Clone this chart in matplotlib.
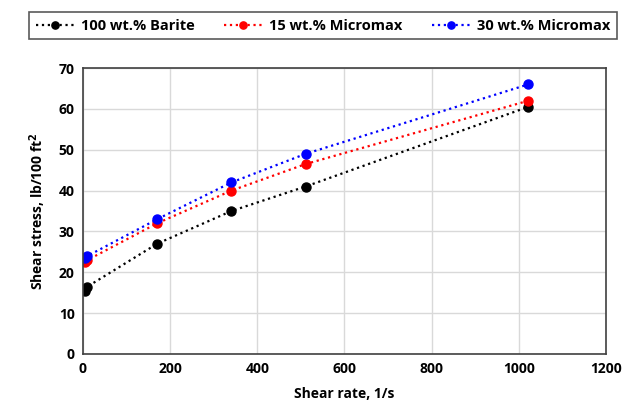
import matplotlib.pyplot as plt
import numpy as np

plt.rcParams['font.family'] = ['Open Sans', 'DejaVu Sans']

shear_rate = [5.11, 10.22, 170.3, 340.6, 510.9, 1021.8]
barite = [15.5, 16.5, 27.0, 35.0, 41.0, 60.5]
micromax15 = [22.5, 23.0, 32.0, 40.0, 46.5, 62.0]
micromax30 = [23.5, 24.0, 33.0, 42.0, 49.0, 66.0]

series = [
    ('100 wt.% Barite', barite, 'black'),
    ('15 wt.% Micromax', micromax15, 'red'),
    ('30 wt.% Micromax', micromax30, 'blue'),
]

fig = plt.figure(figsize=(6.24, 4.15), dpi=100)
ax = fig.add_axes([0.133, 0.147, 0.838, 0.689])

for label, vals, color in series:
    ax.plot(shear_rate, vals, linestyle=':', linewidth=1.6, color=color,
            marker='o', markersize=6.5, label=label)

ax.set_xlim(0, 1200)
ax.set_ylim(0, 70)
ax.set_xticks(np.arange(0, 1201, 200))
ax.set_yticks(np.arange(0, 71, 10))
ax.grid(True, color='#d9d9d9', linewidth=1)
ax.set_axisbelow(True)
for s in ax.spines.values():
    s.set_color('#404040')
    s.set_linewidth(1.2)
ax.tick_params(length=0, labelsize=10, pad=6)
for t in ax.get_xticklabels() + ax.get_yticklabels():
    t.set_fontweight('bold')

ax.set_xlabel('Shear rate, 1/s', fontsize=10, fontweight='bold', labelpad=8)
ax.set_ylabel('Shear stress, lb/100 ft$^{\\mathbf{2}}$', fontsize=10, fontweight='bold', labelpad=8)

leg = fig.legend(loc='upper center', bbox_to_anchor=(0.518, 0.988), ncol=3,
                 frameon=True, fancybox=False, edgecolor='#303030',
                 prop={'weight': 'bold', 'size': 10.5}, handlelength=2.6,
                 columnspacing=2.0, handletextpad=0.5, borderpad=0.45,
                 markerscale=0.8)
leg.get_frame().set_linewidth(1.2)

fig.savefig('out.png', dpi=100)
